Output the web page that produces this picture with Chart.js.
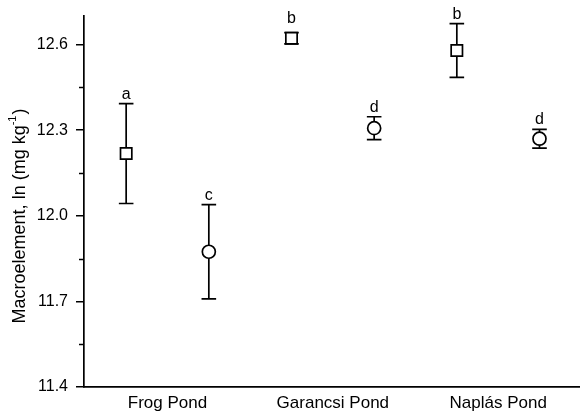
<!DOCTYPE html>
<html><head><meta charset="utf-8">
<script src="https://cdn.jsdelivr.net/npm/chart.js@4"></script>
<style>html,body{margin:0;padding:0;background:#fff}#wrap{width:580px;height:415px}</style>
</head><body><div id="wrap"><canvas id="c"></canvas></div>
<script>
const categories = ['Frog Pond', 'Garancsi Pond', 'Naplás Pond'];
const squareMeans = [12.218, 12.622, 12.579];
const squareErr = [0.175, 0.02, 0.094];
const squareLetters = ['a', 'b', 'b'];
const circleMeans = [11.874, 12.307, 12.270];
const circleErr = [0.165, 0.04, 0.033];
const circleLetters = ['c', 'd', 'd'];
const yTicks = [11.4, 11.7, 12.0, 12.3, 12.6];
const yMinorTicks = [11.55, 11.85, 12.15, 12.45];

const FONT = '"Liberation Sans", Arial, sans-serif';
const OFF = 0.25;

const sqData = squareMeans.map((v, i) => ({x: i + 1 - OFF, y: v, e: squareErr[i], l: squareLetters[i]}));
const ciData = circleMeans.map((v, i) => ({x: i + 1 + OFF, y: v, e: circleErr[i], l: circleLetters[i]}));

const extras = {
  id: 'extras',
  beforeDatasetsDraw(chart) {
    const {ctx, scales: {x, y}} = chart;
    ctx.save();
    ctx.strokeStyle = '#000';
    ctx.lineWidth = 1.7;
    chart.data.datasets.forEach(ds => {
      ds.data.forEach(p => {
        const px = x.getPixelForValue(p.x);
        const yt = y.getPixelForValue(p.y + p.e);
        const yb = y.getPixelForValue(p.y - p.e);
        ctx.beginPath();
        ctx.moveTo(px, yt); ctx.lineTo(px, yb);
        ctx.moveTo(px - 7.3, yt); ctx.lineTo(px + 7.3, yt);
        ctx.moveTo(px - 7.3, yb); ctx.lineTo(px + 7.3, yb);
        ctx.stroke();
      });
    });
    ctx.restore();
  },
  afterDraw(chart) {
    const {ctx, scales: {x, y}} = chart;
    ctx.save();
    ctx.strokeStyle = '#000';
    ctx.lineWidth = 1.5;
    const ax = chart.chartArea.left;
    yMinorTicks.forEach(v => {
      const py = Math.round(y.getPixelForValue(v)) + 0.5;
      ctx.beginPath(); ctx.moveTo(ax - 5, py); ctx.lineTo(ax, py); ctx.stroke();
    });
    ctx.fillStyle = '#000';
    ctx.font = '16px ' + FONT;
    ctx.textAlign = 'center';
    ctx.textBaseline = 'alphabetic';
    chart.data.datasets.forEach(ds => {
      const r = ds.pointRadius;
      ds.data.forEach(p => {
        const px = x.getPixelForValue(p.x);
        const capY = y.getPixelForValue(p.y + p.e);
        const mTop = y.getPixelForValue(p.y) - r;
        const base = capY < mTop ? capY - 5 : mTop - 7;
        ctx.fillText(p.l, px, base);
      });
    });
    ctx.translate(20, 216);
    ctx.rotate(-Math.PI / 2);
    const main = 'Macroelement, ln (mg kg';
    const sup = '-1';
    const end = ')';
    ctx.font = '18px ' + FONT;
    const w1 = ctx.measureText(main).width;
    const w3 = ctx.measureText(end).width;
    ctx.font = '11px ' + FONT;
    const w2 = ctx.measureText(sup).width;
    const total = w1 + w2 + w3 + 1;
    let sx = -total / 2;
    ctx.textAlign = 'left';
    ctx.textBaseline = 'middle';
    ctx.font = '18px ' + FONT;
    ctx.fillText(main, sx, 0);
    sx += w1;
    ctx.font = '11px ' + FONT;
    ctx.fillText(sup, sx, -7);
    sx += w2 + 1;
    ctx.font = '18px ' + FONT;
    ctx.fillText(end, sx, 0);
    ctx.restore();
  }
};

new Chart(document.getElementById('c'), {
  type: 'scatter',
  data: {
    datasets: [
      {data: sqData, pointStyle: 'rect', pointRadius: 8, pointHoverRadius: 8,
       backgroundColor: '#fff', borderColor: '#000', borderWidth: 1.7},
      {data: ciData, pointStyle: 'circle', pointRadius: 6.5, pointHoverRadius: 6.5,
       backgroundColor: '#fff', borderColor: '#000', borderWidth: 1.7}
    ]
  },
  options: {
    responsive: true,
    maintainAspectRatio: false,
    animation: false,
    events: [],
    layout: {autoPadding: false, padding: {top: 16, right: 0, left: 0, bottom: 0}},
    plugins: {legend: {display: false}, tooltip: {enabled: false}},
    scales: {
      x: {
        type: 'linear', min: 0.495, max: 3.495,
        afterBuildTicks: s => { s.ticks = categories.map((c, i) => ({value: i + 1})); },
        afterFit: s => { s.height = 28; s.paddingLeft = 0; s.paddingRight = 0; },
        ticks: {
          callback: v => categories[Math.round(v) - 1] || '',
          color: '#000', font: {family: FONT, size: 17}, padding: 6, maxRotation: 0, autoSkip: false
        },
        grid: {display: false, drawTicks: false},
        border: {display: true, color: '#000', width: 1.7}
      },
      y: {
        min: 11.4, max: 12.7,
        afterBuildTicks: s => { s.ticks = yTicks.map(v => ({value: v})); },
        afterFit: s => { s.width = 84; s.paddingTop = 0; s.paddingBottom = 0; },
        ticks: {
          callback: v => v.toFixed(1),
          color: '#000', font: {family: FONT, size: 16}, padding: 8
        },
        grid: {drawOnChartArea: false, drawTicks: true, tickLength: 8, color: '#000', lineWidth: 1.5},
        border: {display: true, color: '#000', width: 1.7}
      }
    }
  },
  plugins: [extras]
});
</script></body></html>
